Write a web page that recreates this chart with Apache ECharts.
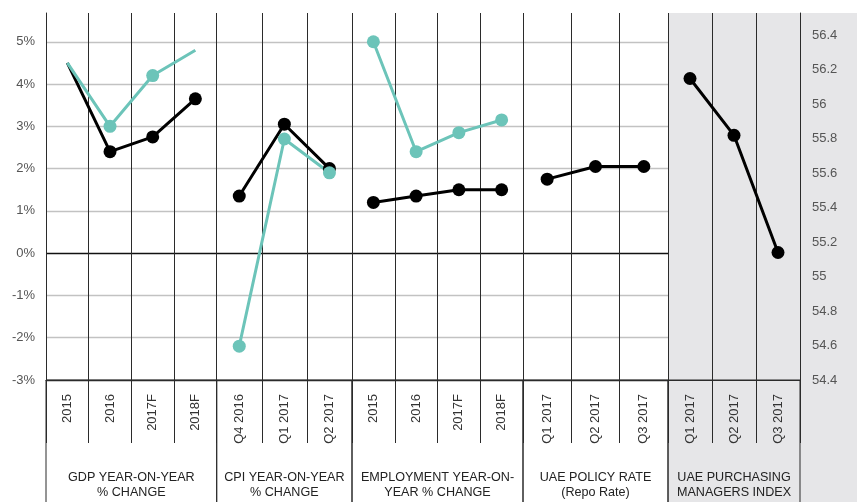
<!DOCTYPE html>
<html>
<head>
<meta charset="utf-8">
<script src="https://cdn.jsdelivr.net/npm/echarts@6/dist/echarts.min.js"></script>
<style>
  html, body { margin: 0; padding: 0; background: #fff; }
  #chart { width: 859px; height: 502px; }
</style>
</head>
<body>
<div id="chart"></div>
<script>
// ---- data ----
const gdpYears = ['2015', '2016', '2017F', '2018F'];
const gdpBlack = [4.5, 2.4, 2.75, 3.65];
const gdpTeal = [4.5, 3.0, 4.2, 4.8];

const cpiQuarters = ['Q4 2016', 'Q1 2017', 'Q2 2017'];
const cpiBlack = [1.35, 3.05, 2.0];
const cpiTeal = [-2.2, 2.7, 1.9];

const empYears = ['2015', '2016', '2017F', '2018F'];
const empBlack = [1.2, 1.35, 1.5, 1.5];
const empTeal = [5.0, 2.4, 2.85, 3.15];

const repoQuarters = ['Q1 2017', 'Q2 2017', 'Q3 2017'];
const repoRate = [1.75, 2.05, 2.05];

const pmiQuarters = ['Q1 2017', 'Q2 2017', 'Q3 2017'];
const pmiIndex = [56.15, 55.82, 55.14];

const panelTitles = [
  'GDP YEAR-ON-YEAR\n% CHANGE',
  'CPI YEAR-ON-YEAR\n% CHANGE',
  'EMPLOYMENT YEAR-ON-\nYEAR % CHANGE',
  'UAE POLICY RATE\n(Repo Rate)',
  'UAE PURCHASING\nMANAGERS INDEX'
];

// ---- layout ----
const W = 859, H = 502;
const plotTop = 13, plotBottom = 380;
const panelEdges = [46, 216.7, 352, 523, 668, 800];
const FONT = "'Liberation Sans', Helvetica, Arial, sans-serif";
const BLACK = '#000000';
const TEAL = '#6cc4b9';
const LINE = '#2b2b2b';
const GRID = '#c2c2c2';

const panelCats = [gdpYears, cpiQuarters, empYears, repoQuarters, pmiQuarters];
// series per panel: [values, colour, hidden-marker flags]
const panelSeries = [
  [[gdpBlack, BLACK, [true, false, false, false]], [gdpTeal, TEAL, [true, false, false, true]]],
  [[cpiBlack, BLACK, null], [cpiTeal, TEAL, null]],
  [[empBlack, BLACK, null], [empTeal, TEAL, null]],
  [[repoRate, BLACK, null]],
  [[pmiIndex, BLACK, null]]
];

const grids = [], xAxes = [], yAxes = [], series = [];

panelCats.forEach((cats, i) => {
  const left = panelEdges[i];
  const width = panelEdges[i + 1] - panelEdges[i];
  // plot area
  grids.push({
    left, width, top: plotTop, height: plotBottom - plotTop,
    containLabel: false, outerBoundsMode: 'none'
  });
  // frame below the plot, holding the panel title
  grids.push({
    left, width, top: plotBottom, height: H - plotBottom + 10,
    outerBoundsMode: 'none',
    show: true, borderColor: LINE, borderWidth: 1, backgroundColor: 'transparent'
  });

  xAxes.push({
    gridIndex: 2 * i,
    type: 'category',
    data: cats,
    boundaryGap: true,
    axisLine: { onZero: false, lineStyle: { color: LINE, width: 1 } },
    axisTick: { show: true, length: 63, lineStyle: { color: LINE, width: 1 } },
    axisLabel: { interval: 0, rotate: 90, margin: 14, fontSize: 13, color: '#333', fontFamily: FONT },
    splitLine: { show: true, lineStyle: { color: LINE, width: 1 } },
    name: panelTitles[i],
    nameLocation: 'middle',
    nameGap: 90,
    nameTextStyle: { fontSize: 12.6, color: '#222', fontFamily: FONT, lineHeight: 15 }
  });

  if (i < 4) {
    yAxes.push({
      gridIndex: 2 * i,
      type: 'value',
      min: -3, max: 5.68, interval: 1,
      axisLine: { show: i === 0, lineStyle: { color: LINE, width: 1 } },
      axisTick: { show: false },
      axisLabel: {
        show: i === 0, margin: 11, fontSize: 13, color: '#555', fontFamily: FONT,
        showMaxLabel: false,
        formatter: v => Math.round(v) + '%'
      },
      splitLine: {
        show: true, showMaxLine: false,
        lineStyle: {
          width: 1.4,
          color: [LINE, GRID, GRID, '#111', GRID, GRID, GRID, GRID, GRID, 'rgba(0,0,0,0)']
        }
      }
    });
  } else {
    yAxes.push({
      gridIndex: 2 * i,
      type: 'value',
      position: 'right',
      min: 54.4, max: 56.53, interval: 0.2,
      axisLine: { show: true, lineStyle: { color: LINE, width: 1 } },
      axisTick: { show: false },
      axisLabel: {
        margin: 12, fontSize: 13, color: '#555', fontFamily: FONT,
        showMaxLabel: false,
        formatter: v => String(Math.round(v * 10) / 10)
      },
      splitLine: { show: false }
    });
  }

  panelSeries[i].forEach(([values, color, hidden]) => {
    series.push({
      type: 'line',
      xAxisIndex: i,
      yAxisIndex: i,
      data: values.map((v, k) => (hidden && hidden[k]) ? { value: v, symbol: 'none' } : v),
      symbol: 'circle',
      symbolSize: 13,
      showAllSymbol: true,
      lineStyle: { color, width: 3 },
      itemStyle: { color },
      z: 3
    });
  });
});

const chart = echarts.init(document.getElementById('chart'), null, { renderer: 'canvas' });
chart.setOption({
  animation: false,
  backgroundColor: '#ffffff',
  graphic: [{
    type: 'rect',
    z: -10,
    silent: true,
    shape: { x: panelEdges[4], y: plotTop, width: W - 2 - panelEdges[4], height: H - plotTop },
    style: { fill: '#e6e6e8' }
  }],
  grid: grids,
  xAxis: xAxes,
  yAxis: yAxes,
  series
});
</script>
</body>
</html>
